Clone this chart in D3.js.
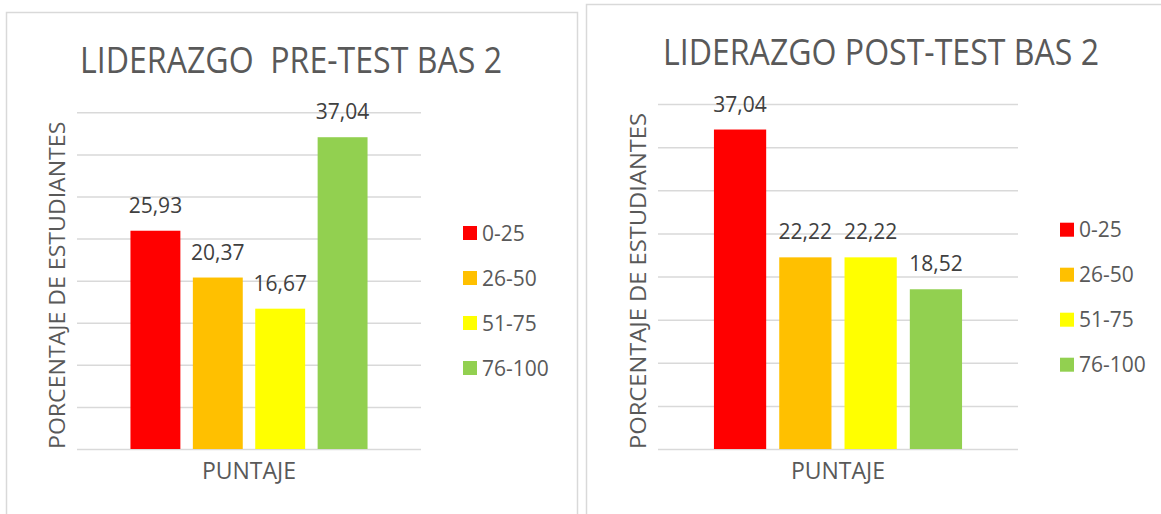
<!DOCTYPE html>
<html>
<head>
<meta charset="utf-8">
<script src="https://cdn.jsdelivr.net/npm/d3@7"></script>
<style>
  html, body { margin: 0; padding: 0; background: #fff; }
  svg { display: block; font-family: "Open Sans", "Noto Sans", sans-serif; }
</style>
</head>
<body>
<svg id="chart" width="1161" height="514"></svg>
<script>
// ---- data ----
const categories = ["0-25", "26-50", "51-75", "76-100"];
const colors = ["#FF0000", "#FFC000", "#FFFF00", "#92D050"];
const preValues = [25.93, 20.37, 16.67, 37.04];
const postValues = [37.04, 22.22, 22.22, 18.52];
const yTicks = [0, 5, 10, 15, 20, 25, 30, 35, 40];
const groupLabel = ["PUNTAJE"];
const preTitle = "LIDERAZGO\u00a0\u00a0PRE-TEST BAS 2";
const postTitle = "LIDERAZGO POST-TEST BAS 2";
const yTitle = "PORCENTAJE DE ESTUDIANTES";

const fmt = d3.formatLocale({ decimal: ",", thousands: ".", grouping: [3], currency: ["", ""] }).format(".2f");

const svg = d3.select("#chart");

function drawChart(cfg) {
  const g = svg.append("g");
  // chart border
  g.append("rect")
    .attr("x", cfg.box.x + 0.5).attr("y", cfg.box.y + 0.5)
    .attr("width", cfg.box.w).attr("height", cfg.box.h)
    .attr("fill", "#fff").attr("stroke", "#d9d9d9").attr("stroke-width", 1.5);

  const p = cfg.plot;
  const y = d3.scaleLinear().domain([0, 40]).range([p.y1, p.y0]);
  const x0 = d3.scaleBand().domain(groupLabel).range([p.x0, p.x1]).padding(0.184);
  const x1 = d3.scaleBand().domain(categories)
    .range([x0(groupLabel[0]), x0(groupLabel[0]) + x0.bandwidth()])
    .paddingInner(0.2);

  // gridlines
  const grid = g.append("g").attr("transform", `translate(${p.x0},0)`)
    .call(d3.axisLeft(y).tickValues(yTicks).tickSize(-(p.x1 - p.x0)).tickFormat(""));
  grid.select(".domain").remove();
  grid.selectAll(".tick line").attr("stroke", "#d9d9d9").attr("stroke-width", 1.5);

  // bars
  g.selectAll("rect.bar").data(cfg.values).enter().append("rect")
    .attr("class", "bar")
    .attr("x", (d, i) => x1(categories[i]))
    .attr("y", d => y(d))
    .attr("width", x1.bandwidth())
    .attr("height", d => y(0) - y(d))
    .attr("fill", (d, i) => colors[i]);

  // data labels
  g.selectAll("text.lbl").data(cfg.values).enter().append("text")
    .attr("class", "lbl")
    .attr("x", (d, i) => x1(categories[i]) + x1.bandwidth() / 2)
    .attr("y", d => y(d) - 18)
    .attr("text-anchor", "middle")
    .attr("font-size", 21).attr("fill", "#404040")
    .text(d => fmt(d));

  // title
  g.append("text")
    .attr("x", cfg.title.x).attr("y", cfg.title.y)
    .attr("text-anchor", "middle")
    .attr("font-size", 37).attr("font-weight", 400).attr("fill", "#595959")
    .attr("textLength", cfg.title.len).attr("lengthAdjust", "spacingAndGlyphs")
    .text(cfg.title.text);

  // y axis title
  g.append("text")
    .attr("transform", `translate(${cfg.yt.x},${(p.y1 + cfg.yt.top) / 2}) rotate(-90)`)
    .attr("text-anchor", "middle")
    .attr("font-size", 22).attr("fill", "#595959")
    .attr("textLength", p.y1 - cfg.yt.top).attr("lengthAdjust", "spacingAndGlyphs")
    .text(yTitle);

  // x axis title
  g.append("text")
    .attr("x", (p.x0 + p.x1) / 2).attr("y", 479)
    .attr("text-anchor", "middle")
    .attr("font-size", 23).attr("fill", "#595959")
    .text(groupLabel[0]);

  // legend
  const lg = g.append("g").selectAll("g").data(categories).enter().append("g")
    .attr("transform", (d, i) => `translate(${cfg.legend.x},${cfg.legend.y + i * cfg.legend.step})`);
  lg.append("rect").attr("x", 0).attr("y", -7).attr("width", 14).attr("height", 14)
    .attr("fill", (d, i) => colors[i]);
  lg.append("text").attr("x", 19).attr("y", 0).attr("dy", "0.36em")
    .attr("font-size", 21).attr("fill", "#595959")
    .text(d => d);
}

drawChart({
  box: { x: 6, y: 12, w: 571, h: 600 },
  plot: { x0: 77, x1: 421, y0: 112.3, y1: 449 },
  values: preValues,
  title: { text: preTitle, x: 291, y: 73, len: 422 },
  yt: { x: 65, top: 121.7 },
  legend: { x: 463, y: 233, step: 45 }
});

drawChart({
  box: { x: 586, y: 4, w: 700, h: 600 },
  plot: { x0: 658, x1: 1018, y0: 104, y1: 449 },
  values: postValues,
  title: { text: postTitle, x: 881, y: 65, len: 436 },
  yt: { x: 646, top: 113 },
  legend: { x: 1060, y: 229.7, step: 45 }
});
</script>
</body>
</html>
